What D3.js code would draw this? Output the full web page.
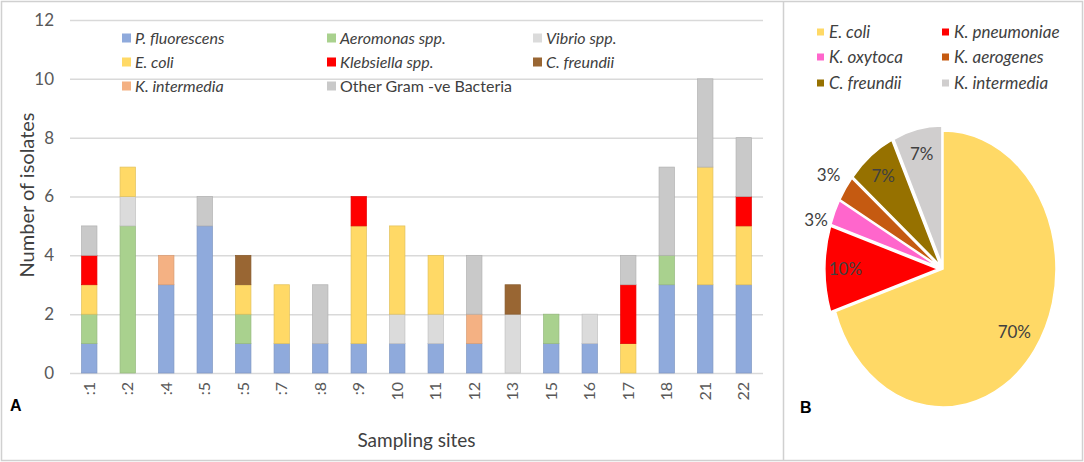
<!DOCTYPE html>
<html>
<head>
<meta charset="utf-8">
<script src="https://cdn.jsdelivr.net/npm/d3@7"></script>
<style>
  body { margin: 0; background: #fff; }
  svg { display: block; font-family: Lato, "Open Sans", sans-serif; }
</style>
</head>
<body>
<svg id="chart" width="1084" height="462"></svg>
<script>
// Panel A data - isolates per sampling site
let sites = [":1", ":2", ":4", ":5", ":5", ":7", ":8", ":9", "10", "11", "12", "13", "15", "16", "17", "18", "21", "22"];
let seriesNames = ["P. fluorescens", "Aeromonas spp.", "Vibrio spp.", "E. coli", "Klebsiella spp.", "C. freundii", "K. intermedia", "Other Gram -ve Bacteria"];
let pFluorescens = [1, 0, 3, 5, 1, 1, 1, 1, 1, 1, 1, 0, 1, 1, 0, 3, 3, 3];
let aeromonas    = [1, 5, 0, 0, 1, 0, 0, 0, 0, 0, 0, 0, 1, 0, 0, 1, 0, 0];
let vibrio       = [0, 1, 0, 0, 0, 0, 0, 0, 1, 1, 0, 2, 0, 1, 0, 0, 0, 0];
let eColi        = [1, 1, 0, 0, 1, 2, 0, 4, 3, 2, 0, 0, 0, 0, 1, 0, 4, 2];
let klebsiella   = [1, 0, 0, 0, 0, 0, 0, 1, 0, 0, 0, 0, 0, 0, 2, 0, 0, 1];
let cFreundii    = [0, 0, 0, 0, 1, 0, 0, 0, 0, 0, 0, 1, 0, 0, 0, 0, 0, 0];
let kIntermedia  = [0, 0, 1, 0, 0, 0, 0, 0, 0, 0, 1, 0, 0, 0, 0, 0, 0, 0];
let otherGram    = [1, 0, 0, 1, 0, 0, 2, 0, 0, 0, 2, 0, 0, 0, 1, 3, 3, 2];
let yTicks = [0, 2, 4, 6, 8, 10, 12];

// Panel B data - Enterobacteriaceae share (%)
let pieNames = ["E. coli", "K. pneumoniae", "K. oxytoca", "K. aerogenes", "C. freundii", "K. intermedia"];
let piePercents = [70, 10, 3, 3, 7, 7];

// Colors
let barColors = ["#8faadc", "#a9d18e", "#dbdbdb", "#ffd966", "#ff0000", "#996633", "#f4b183", "#c9c9c9"];
let pieColors = ["#ffd966", "#ff0000", "#ff66cc", "#c55a11", "#967100", "#d0cece"];
let textColor = "#404040";
let tickColor = "#595959";
let gridColor = "#d9d9d9";

let svg = d3.select("#chart");

// Frame and panel divider
svg.append("rect")
  .attr("x", 1.5).attr("y", 1.5)
  .attr("width", 1081).attr("height", 459)
  .attr("fill", "none")
  .attr("stroke", "#d0d0d0")
  .attr("stroke-width", 1.5);
svg.append("line")
  .attr("x1", 783.5).attr("x2", 783.5)
  .attr("y1", 1.5).attr("y2", 460.5)
  .attr("stroke", "#d0d0d0")
  .attr("stroke-width", 1.5);

// ---------- Panel A : stacked bars ----------
let plot = { left: 70, right: 763, top: 20, bottom: 373 };

let x = d3.scaleBand()
  .domain(d3.range(sites.length))
  .range([plot.left, plot.right])
  .paddingInner(0.6)
  .paddingOuter(0.3);
let y = d3.scaleLinear()
  .domain([0, 12])
  .range([plot.bottom, plot.top]);

let rows = sites.map((s, i) => {
  let r = { i: i };
  [pFluorescens, aeromonas, vibrio, eColi, klebsiella, cFreundii, kIntermedia, otherGram]
    .forEach((arr, k) => { r[seriesNames[k]] = arr[i]; });
  return r;
});
let stacked = d3.stack().keys(seriesNames)(rows);

// Y axis with gridlines
let yAxis = svg.append("g")
  .attr("class", "axis axis_y")
  .attr("transform", "translate(" + plot.left + ",0)")
  .call(d3.axisLeft(y).tickValues(yTicks).tickSize(-(plot.right - plot.left)).tickPadding(16));
yAxis.select(".domain").remove();
yAxis.selectAll("line").attr("stroke", gridColor).attr("stroke-width", 1.5);
yAxis.selectAll("text")
  .style("font-size", "17px")
  .style("font-family", "Lato, sans-serif")
  .attr("fill", tickColor);

// Bars
svg.append("g")
  .attr("class", "bars")
  .selectAll("g")
  .data(stacked)
  .enter()
  .append("g")
  .attr("fill", (d, k) => barColors[k])
  .attr("stroke", (d, k) => d3.color(barColors[k]).darker(0.35))
  .attr("stroke-width", 0.7)
  .selectAll("rect")
  .data(d => d.filter(v => v[1] > v[0]))
  .enter()
  .append("rect")
  .attr("x", d => x(d.data.i))
  .attr("width", x.bandwidth())
  .attr("y", d => y(d[1]))
  .attr("height", d => y(d[0]) - y(d[1]));

// X axis labels (rotated)
let xAxis = svg.append("g")
  .attr("class", "axis axis_x")
  .attr("transform", "translate(0," + plot.bottom + ")")
  .call(d3.axisBottom(x).tickSize(0).tickFormat(i => sites[i]));
xAxis.select(".domain").remove();
xAxis.selectAll("text")
  .attr("transform", "rotate(-90)")
  .attr("x", -9)
  .attr("y", 0)
  .attr("dy", "0.35em")
  .style("text-anchor", "end")
  .style("font-size", "16px")
  .style("font-family", "Lato, sans-serif")
  .attr("fill", tickColor);

// Axis titles
svg.append("text")
  .attr("transform", "rotate(-90)")
  .attr("x", -195)
  .attr("y", 27)
  .attr("dy", "0.35em")
  .style("text-anchor", "middle")
  .style("font-size", "20px")
  .attr("fill", textColor)
  .text("Number of isolates");

svg.append("text")
  .attr("x", (plot.left + plot.right) / 2)
  .attr("y", 447)
  .style("text-anchor", "middle")
  .style("font-size", "19px")
  .attr("fill", textColor)
  .text("Sampling sites");

svg.append("text")
  .attr("x", 10)
  .attr("y", 411)
  .style("font-size", "16px")
  .style("font-weight", "bold")
  .style("font-family", "Liberation Sans, Arial, sans-serif")
  .attr("fill", "#000")
  .text("A");

// Legend A
let legendA = svg.append("g").attr("class", "legend");
let legendCols = [122, 327, 533];
let legendRows = [38, 62, 86];
seriesNames.forEach((name, k) => {
  let cx = legendCols[k % 3], cy = legendRows[Math.floor(k / 3)];
  legendA.append("rect")
    .attr("x", cx).attr("y", cy - 4.5)
    .attr("width", 9).attr("height", 9)
    .attr("fill", barColors[k]);
  legendA.append("text")
    .attr("x", cx + 13)
    .attr("y", cy)
    .attr("dy", "0.35em")
    .style("font-size", "16px")
    .style("font-style", name.startsWith("Other") ? "normal" : "italic")
    .attr("fill", textColor)
    .text(name);
});

// ---------- Panel B : pie ----------
let pieCenter = { x: 943, y: 269 }, rx = 113, ry = 138, r = 100;
let pie = d3.pie().sort(null).value(d => d)(piePercents);
let arc = d3.arc().innerRadius(0).outerRadius(r);

function explode(d) {
  let mid = (d.startAngle + d.endAngle) / 2;
  return d.index === 0 ? [0, 0] : [5 * Math.sin(mid), -5 * Math.cos(mid)];
}

let pieG = svg.append("g").attr("class", "pie");
pieG.selectAll("path")
  .data(pie)
  .enter()
  .append("path")
  .attr("transform", d => {
    let o = explode(d);
    return "translate(" + (pieCenter.x + o[0]) + "," + (pieCenter.y + o[1]) + ") scale(" + rx / r + "," + ry / r + ")";
  })
  .attr("d", arc)
  .attr("fill", (d, i) => pieColors[i])
  .attr("stroke", "#fff")
  .attr("stroke-width", 1.5)
  .attr("vector-effect", "non-scaling-stroke");

// Percentage label positions: inside for big slices, outside for small ones
let labels = pie.map(d => {
  let mid = (d.startAngle + d.endAngle) / 2;
  let outside = d.data < 5;
  let f = outside ? 1.18 : (d.index === 0 ? 0.78 : 0.82);
  return {
    text: d.data + "%",
    outside: outside,
    x: pieCenter.x + explode(d)[0] + rx * f * Math.sin(mid),
    y: pieCenter.y + explode(d)[1] - ry * f * Math.cos(mid)
  };
});
// push outside labels apart vertically so they don't crowd
let outs = labels.filter(l => l.outside).sort((a, b) => a.y - b.y);
for (let k = 1; k < outs.length; k++) {
  if (outs[k].y - outs[k - 1].y < 45) outs[k].y = outs[k - 1].y + 45;
}

pieG.selectAll("text")
  .data(labels)
  .enter()
  .append("text")
  .attr("x", l => l.x)
  .attr("y", l => l.y)
  .attr("dy", "0.35em")
  .style("text-anchor", "middle")
  .style("font-size", "17px")
  .attr("fill", textColor)
  .text(l => l.text);

// Legend B
let legendB = svg.append("g").attr("class", "legend");
let legendBCols = [817, 942];
let legendBRows = [32, 57, 83];
pieNames.forEach((name, k) => {
  let cx = legendBCols[k % 2], cy = legendBRows[Math.floor(k / 2)];
  legendB.append("rect")
    .attr("x", cx).attr("y", cy - 3.5)
    .attr("width", 7).attr("height", 7)
    .attr("fill", pieColors[k]);
  legendB.append("text")
    .attr("x", cx + 12)
    .attr("y", cy)
    .attr("dy", "0.35em")
    .style("font-size", "17px")
    .style("font-style", "italic")
    .attr("fill", textColor)
    .text(name);
});

svg.append("text")
  .attr("x", 800)
  .attr("y", 413)
  .style("font-size", "16px")
  .style("font-weight", "bold")
  .style("font-family", "Liberation Sans, Arial, sans-serif")
  .attr("fill", "#000")
  .text("B");
</script>
</body>
</html>
